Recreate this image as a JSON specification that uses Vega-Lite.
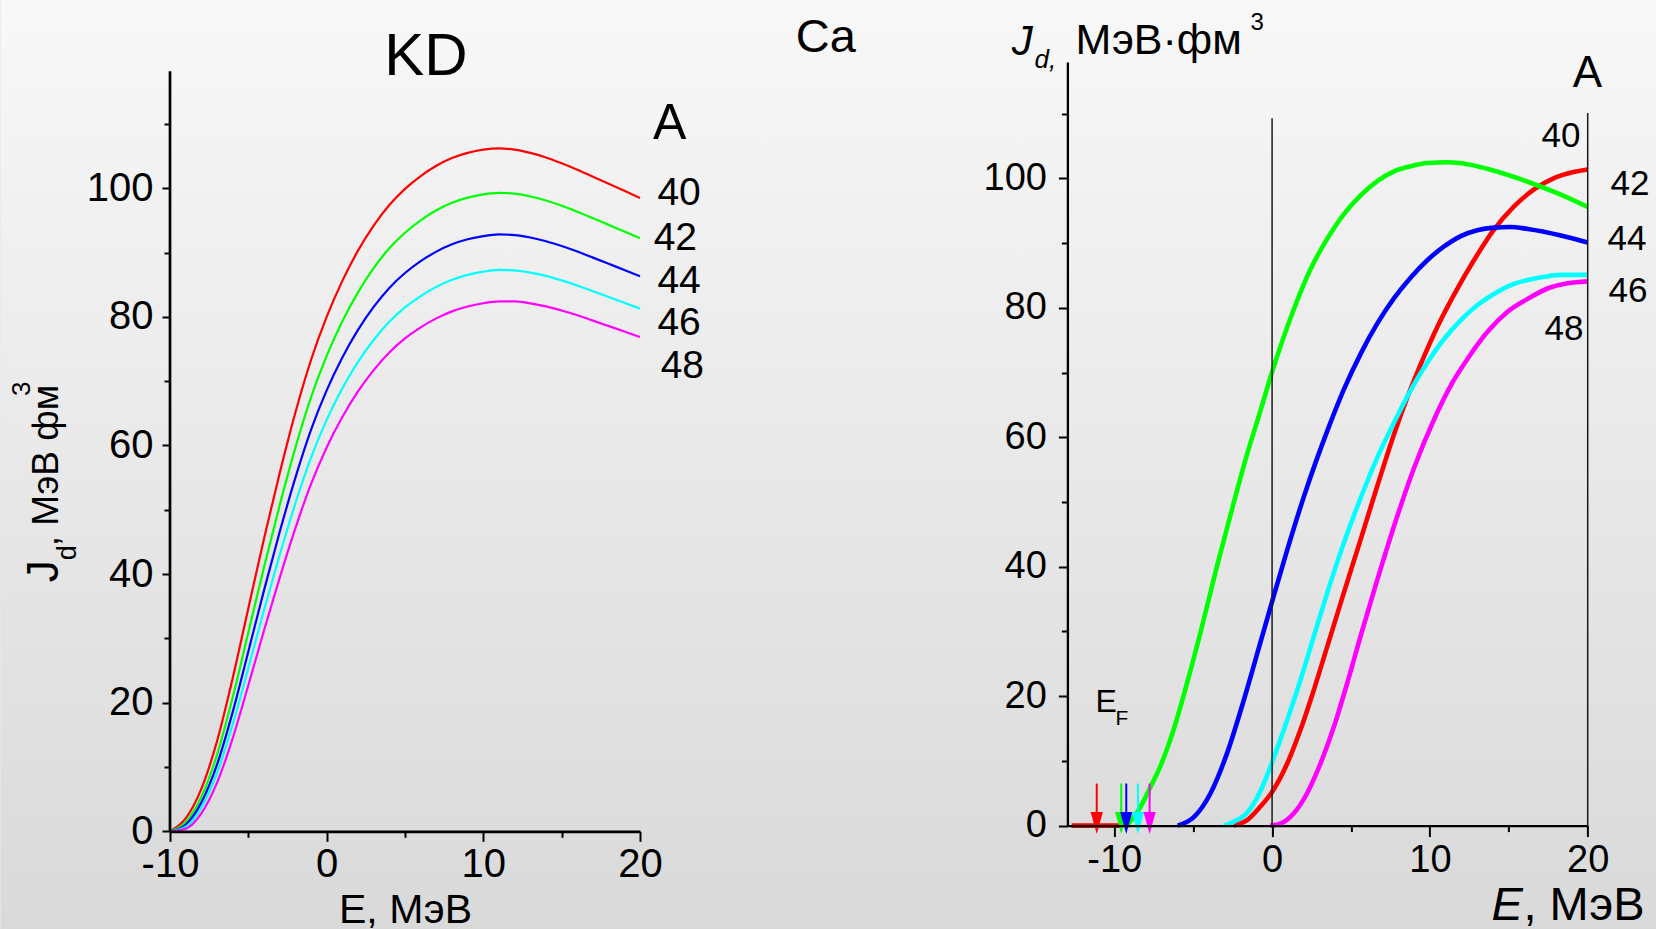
{
  "$schema": "https://vega.github.io/schema/vega-lite/v6.json",
  "padding": 0,
  "background": "#e8e8e8",
  "bounds": "flush",
  "spacing": 427.4,
  "resolve": {"scale": {"x": "independent", "y": "independent"}},
  "config": {
    "view": {"stroke": null},
    "axis": {"labelFont": "Liberation Sans", "titleFont": "Liberation Sans", "labelColor": "#000", "titleColor": "#000", "domainColor": "#000", "tickColor": "#000", "grid": false, "labelFlush": false, "labelOverlap": false, "titleFontWeight": "normal"},
    "text": {"font": "Liberation Sans", "color": "#000"}
  },
  "datasets": {
    "kd": [
      {"A":"40","E":-10,"J":0},{"A":"40","E":-9,"J":2.0},{"A":"40","E":-8,"J":6.6},{"A":"40","E":-7,"J":14.0},{"A":"40","E":-6,"J":23.8},{"A":"40","E":-5,"J":34.7},{"A":"40","E":-4,"J":45.5},{"A":"40","E":-3,"J":55.7},{"A":"40","E":-2,"J":65.1},{"A":"40","E":-1,"J":73.3},{"A":"40","E":0,"J":80.0},{"A":"40","E":1,"J":85.6},{"A":"40","E":2,"J":90.3},{"A":"40","E":3,"J":94.2},{"A":"40","E":4,"J":97.4},{"A":"40","E":5,"J":99.9},{"A":"40","E":6,"J":101.9},{"A":"40","E":7,"J":103.5},{"A":"40","E":8,"J":104.7},{"A":"40","E":9,"J":105.5},{"A":"40","E":10,"J":106.0},{"A":"40","E":11,"J":106.2},{"A":"40","E":12,"J":106.0},{"A":"40","E":13,"J":105.5},{"A":"40","E":14,"J":104.8},{"A":"40","E":15,"J":103.9},{"A":"40","E":16,"J":102.9},{"A":"40","E":17,"J":101.8},{"A":"40","E":18,"J":100.7},{"A":"40","E":19,"J":99.6},{"A":"40","E":20,"J":98.5},
      {"A":"42","E":-10,"J":0},{"A":"42","E":-9,"J":1.4},{"A":"42","E":-8,"J":5.33},{"A":"42","E":-7,"J":11.88},{"A":"42","E":-6,"J":20.8},{"A":"42","E":-5,"J":30.92},{"A":"42","E":-4,"J":41.07},{"A":"42","E":-3,"J":50.7},{"A":"42","E":-2,"J":59.63},{"A":"42","E":-1,"J":67.49},{"A":"42","E":0,"J":73.94},{"A":"42","E":1,"J":79.32},{"A":"42","E":2,"J":83.82},{"A":"42","E":3,"J":87.58},{"A":"42","E":4,"J":90.67},{"A":"42","E":5,"J":93.09},{"A":"42","E":6,"J":95.02},{"A":"42","E":7,"J":96.58},{"A":"42","E":8,"J":97.75},{"A":"42","E":9,"J":98.55},{"A":"42","E":10,"J":99.06},{"A":"42","E":11,"J":99.3},{"A":"42","E":12,"J":99.16},{"A":"42","E":13,"J":98.73},{"A":"42","E":14,"J":98.1},{"A":"42","E":15,"J":97.28},{"A":"42","E":16,"J":96.36},{"A":"42","E":17,"J":95.34},{"A":"42","E":18,"J":94.31},{"A":"42","E":19,"J":93.28},{"A":"42","E":20,"J":92.25},
      {"A":"44","E":-10,"J":0},{"A":"44","E":-9,"J":1.02},{"A":"44","E":-8,"J":4.46},{"A":"44","E":-7,"J":10.36},{"A":"44","E":-6,"J":18.54},{"A":"44","E":-5,"J":27.96},{"A":"44","E":-4,"J":37.47},{"A":"44","E":-3,"J":46.54},{"A":"44","E":-2,"J":54.97},{"A":"44","E":-1,"J":62.44},{"A":"44","E":0,"J":68.57},{"A":"44","E":1,"J":73.69},{"A":"44","E":2,"J":77.98},{"A":"44","E":3,"J":81.55},{"A":"44","E":4,"J":84.51},{"A":"44","E":5,"J":86.82},{"A":"44","E":6,"J":88.67},{"A":"44","E":7,"J":90.15},{"A":"44","E":8,"J":91.29},{"A":"44","E":9,"J":92.07},{"A":"44","E":10,"J":92.57},{"A":"44","E":11,"J":92.82},{"A":"44","E":12,"J":92.72},{"A":"44","E":13,"J":92.34},{"A":"44","E":14,"J":91.77},{"A":"44","E":15,"J":91.02},{"A":"44","E":16,"J":90.16},{"A":"44","E":17,"J":89.22},{"A":"44","E":18,"J":88.26},{"A":"44","E":19,"J":87.29},{"A":"44","E":20,"J":86.33},
      {"A":"46","E":-10,"J":0},{"A":"46","E":-9,"J":0.69},{"A":"46","E":-8,"J":3.7},{"A":"46","E":-7,"J":9.03},{"A":"46","E":-6,"J":16.59},{"A":"46","E":-5,"J":25.4},{"A":"46","E":-4,"J":34.38},{"A":"46","E":-3,"J":42.97},{"A":"46","E":-2,"J":50.98},{"A":"46","E":-1,"J":58.11},{"A":"46","E":0,"J":63.99},{"A":"46","E":1,"J":68.88},{"A":"46","E":2,"J":72.99},{"A":"46","E":3,"J":76.41},{"A":"46","E":4,"J":79.24},{"A":"46","E":5,"J":81.47},{"A":"46","E":6,"J":83.24},{"A":"46","E":7,"J":84.67},{"A":"46","E":8,"J":85.78},{"A":"46","E":9,"J":86.53},{"A":"46","E":10,"J":87.03},{"A":"46","E":11,"J":87.3},{"A":"46","E":12,"J":87.23},{"A":"46","E":13,"J":86.89},{"A":"46","E":14,"J":86.38},{"A":"46","E":15,"J":85.68},{"A":"46","E":16,"J":84.89},{"A":"46","E":17,"J":84.0},{"A":"46","E":18,"J":83.1},{"A":"46","E":19,"J":82.19},{"A":"46","E":20,"J":81.29},
      {"A":"48","E":-10,"J":0},{"A":"48","E":-9,"J":0.4},{"A":"48","E":-8,"J":2.79},{"A":"48","E":-7,"J":7.53},{"A":"48","E":-6,"J":14.45},{"A":"48","E":-5,"J":22.71},{"A":"48","E":-4,"J":31.23},{"A":"48","E":-3,"J":39.42},{"A":"48","E":-2,"J":47.1},{"A":"48","E":-1,"J":53.99},{"A":"48","E":0,"J":59.69},{"A":"48","E":1,"J":64.42},{"A":"48","E":2,"J":68.4},{"A":"48","E":3,"J":71.72},{"A":"48","E":4,"J":74.47},{"A":"48","E":5,"J":76.65},{"A":"48","E":6,"J":78.38},{"A":"48","E":7,"J":79.77},{"A":"48","E":8,"J":80.86},{"A":"48","E":9,"J":81.61},{"A":"48","E":10,"J":82.12},{"A":"48","E":11,"J":82.41},{"A":"48","E":12,"J":82.4},{"A":"48","E":13,"J":82.1},{"A":"48","E":14,"J":81.64},{"A":"48","E":15,"J":81.0},{"A":"48","E":16,"J":80.26},{"A":"48","E":17,"J":79.42},{"A":"48","E":18,"J":78.57},{"A":"48","E":19,"J":77.72},{"A":"48","E":20,"J":76.86}
    ],
    "ca": [
      {"A":"40","seg":"b","E":-12.7,"J":0},{"A":"40","seg":"b","E":-9.6,"J":0},
      {"A":"40","seg":"m","E":-2.43,"J":0},{"A":"40","seg":"m","E":-1.6,"J":0.8},{"A":"40","seg":"m","E":-0.75,"J":2.9},{"A":"40","seg":"m","E":0,"J":5.2},{"A":"40","seg":"m","E":0.96,"J":9.6},{"A":"40","seg":"m","E":1.8,"J":14.8},{"A":"40","seg":"m","E":2.65,"J":21.0},{"A":"40","seg":"m","E":3.5,"J":27.7},{"A":"40","seg":"m","E":4.55,"J":36.0},{"A":"40","seg":"m","E":5.61,"J":44.2},{"A":"40","seg":"m","E":6.67,"J":52.5},{"A":"40","seg":"m","E":7.7,"J":60.3},{"A":"40","seg":"m","E":8.7,"J":67.0},{"A":"40","seg":"m","E":9.7,"J":72.9},{"A":"40","seg":"m","E":10.7,"J":78.2},{"A":"40","seg":"m","E":11.7,"J":82.8},{"A":"40","seg":"m","E":12.8,"J":87.4},{"A":"40","seg":"m","E":14.0,"J":91.9},{"A":"40","seg":"m","E":15.3,"J":95.6},{"A":"40","seg":"m","E":16.6,"J":98.3},{"A":"40","seg":"m","E":17.9,"J":100.1},{"A":"40","seg":"m","E":19.1,"J":101.0},{"A":"40","seg":"m","E":20,"J":101.4},
      {"A":"42","seg":"m","E":-9.2,"J":0},{"A":"42","seg":"m","E":-8.34,"J":2.9},{"A":"42","seg":"m","E":-7.8,"J":5.5},{"A":"42","seg":"m","E":-7.09,"J":9.1},{"A":"42","seg":"m","E":-6.24,"J":14.8},{"A":"42","seg":"m","E":-5.39,"J":22.0},{"A":"42","seg":"m","E":-4.54,"J":29.8},{"A":"42","seg":"m","E":-3.49,"J":40.1},{"A":"42","seg":"m","E":-2.43,"J":49.9},{"A":"42","seg":"m","E":-1.58,"J":57.4},{"A":"42","seg":"m","E":-0.75,"J":64.0},{"A":"42","seg":"m","E":0,"J":70.1},{"A":"42","seg":"m","E":1.38,"J":79.8},{"A":"42","seg":"m","E":2.44,"J":86.0},{"A":"42","seg":"m","E":3.5,"J":90.7},{"A":"42","seg":"m","E":4.55,"J":94.5},{"A":"42","seg":"m","E":5.61,"J":97.4},{"A":"42","seg":"m","E":6.67,"J":99.6},{"A":"42","seg":"m","E":7.73,"J":101.1},{"A":"42","seg":"m","E":8.79,"J":101.9},{"A":"42","seg":"m","E":9.85,"J":102.4},{"A":"42","seg":"m","E":11.1,"J":102.5},{"A":"42","seg":"m","E":12.4,"J":102.2},{"A":"42","seg":"m","E":14.08,"J":101.2},{"A":"42","seg":"m","E":16.2,"J":99.5},{"A":"42","seg":"m","E":18.3,"J":97.5},{"A":"42","seg":"m","E":20,"J":95.6},
      {"A":"44","seg":"m","E":-5.98,"J":0},{"A":"44","seg":"m","E":-4.96,"J":1.3},{"A":"44","seg":"m","E":-3.9,"J":5.0},{"A":"44","seg":"m","E":-2.85,"J":11.2},{"A":"44","seg":"m","E":-1.79,"J":19.4},{"A":"44","seg":"m","E":-0.74,"J":28.3},{"A":"44","seg":"m","E":0,"J":34.6},{"A":"44","seg":"m","E":0.96,"J":42.6},{"A":"44","seg":"m","E":2.01,"J":50.8},{"A":"44","seg":"m","E":2.8,"J":56.4},{"A":"44","seg":"m","E":3.5,"J":61.0},{"A":"44","seg":"m","E":4.55,"J":67.4},{"A":"44","seg":"m","E":5.61,"J":72.9},{"A":"44","seg":"m","E":6.67,"J":77.6},{"A":"44","seg":"m","E":7.73,"J":81.5},{"A":"44","seg":"m","E":8.79,"J":84.7},{"A":"44","seg":"m","E":9.85,"J":87.4},{"A":"44","seg":"m","E":10.9,"J":89.5},{"A":"44","seg":"m","E":11.96,"J":91.1},{"A":"44","seg":"m","E":13.0,"J":92.0},{"A":"44","seg":"m","E":14.08,"J":92.4},{"A":"44","seg":"m","E":15.1,"J":92.5},{"A":"44","seg":"m","E":16.2,"J":92.2},{"A":"44","seg":"m","E":18.3,"J":91.2},{"A":"44","seg":"m","E":20,"J":90.1},
      {"A":"46","seg":"m","E":-3.06,"J":0},{"A":"46","seg":"m","E":-2.43,"J":0.6},{"A":"46","seg":"m","E":-1.58,"J":2.0},{"A":"46","seg":"m","E":-0.74,"J":5.3},{"A":"46","seg":"m","E":0,"J":9.8},{"A":"46","seg":"m","E":0.96,"J":16.3},{"A":"46","seg":"m","E":1.8,"J":22.5},{"A":"46","seg":"m","E":2.65,"J":29.3},{"A":"46","seg":"m","E":3.5,"J":36.0},{"A":"46","seg":"m","E":4.55,"J":43.7},{"A":"46","seg":"m","E":5.61,"J":50.6},{"A":"46","seg":"m","E":6.67,"J":56.9},{"A":"46","seg":"m","E":7.73,"J":62.3},{"A":"46","seg":"m","E":8.79,"J":67.3},{"A":"46","seg":"m","E":9.85,"J":71.6},{"A":"46","seg":"m","E":10.9,"J":75.2},{"A":"46","seg":"m","E":11.96,"J":78.1},{"A":"46","seg":"m","E":13.0,"J":80.4},{"A":"46","seg":"m","E":14.08,"J":82.2},{"A":"46","seg":"m","E":15.1,"J":83.5},{"A":"46","seg":"m","E":16.2,"J":84.3},{"A":"46","seg":"m","E":17.25,"J":84.8},{"A":"46","seg":"m","E":18.3,"J":85.1},{"A":"46","seg":"m","E":20,"J":85.1},
      {"A":"48","seg":"m","E":-0.1,"J":0},{"A":"48","seg":"m","E":0.53,"J":0.3},{"A":"48","seg":"m","E":1.38,"J":1.9},{"A":"48","seg":"m","E":2.22,"J":5.0},{"A":"48","seg":"m","E":3.07,"J":9.6},{"A":"48","seg":"m","E":3.92,"J":15.3},{"A":"48","seg":"m","E":4.76,"J":22.0},{"A":"48","seg":"m","E":5.61,"J":29.3},{"A":"48","seg":"m","E":6.67,"J":38.0},{"A":"48","seg":"m","E":7.73,"J":46.3},{"A":"48","seg":"m","E":9.0,"J":55.3},{"A":"48","seg":"m","E":10.27,"J":62.8},{"A":"48","seg":"m","E":11.32,"J":68.0},{"A":"48","seg":"m","E":12.38,"J":72.1},{"A":"48","seg":"m","E":13.65,"J":76.3},{"A":"48","seg":"m","E":14.92,"J":79.4},{"A":"48","seg":"m","E":16.2,"J":81.4},{"A":"48","seg":"m","E":17.46,"J":83.0},{"A":"48","seg":"m","E":18.73,"J":83.8},{"A":"48","seg":"m","E":20,"J":84.1}
    ],
    "fermi": [
      {"A":"40","E":-11.11},{"A":"42","E":-9.56},{"A":"44","E":-9.24},{"A":"46","E":-8.5},{"A":"48","E":-7.76}
    ]
  },
  "hconcat": [
    {
      "width": 470,
      "height": 769.3,
      "layer": [
        {
          "data": {"values": [{}]},
          "mark": {"type": "rect", "fill": {"gradient": "linear", "x1": 0, "y1": 0, "x2": 0, "y2": 1, "stops": [{"offset": 0, "color": "#f8f8f8"}, {"offset": 1, "color": "#d9d9d9"}]}},
          "encoding": {"x": {"datum": -20.806}, "x2": {"datum": 84.87}, "y": {"datum": 129.24}, "y2": {"datum": -15.2}}
        },
        {
          "data": {"name": "kd"},
          "mark": {"type": "line", "strokeWidth": 2.2, "interpolate": "monotone"},
          "encoding": {
            "x": {"field": "E", "type": "quantitative", "scale": {"domain": [-10, 20], "nice": false, "zero": false},
              "axis": {"zindex": 1, "values": [-10, -5, 0, 5, 10, 15, 20], "labelExpr": "datum.value % 10 === 0 ? toString(datum.value) : ''", "labelFontSize": 40, "labelPadding": 3, "tickSize": {"condition": {"test": "datum.value % 10 === 0", "value": 10}, "value": 6}, "tickWidth": 2, "domainWidth": 2.7, "title": "E, МэВ", "titleFontSize": 41, "titleBaseline": "alphabetic", "titleY": 91}},
            "y": {"field": "J", "type": "quantitative", "scale": {"domain": [0, 119.64], "nice": false, "zero": false},
              "axis": {"zindex": 1, "values": [0, 10, 20, 30, 40, 50, 60, 70, 80, 90, 100, 110], "labelExpr": "datum.value % 20 === 0 ? toString(datum.value) : ''", "labelFontSize": 40, "labelPadding": 9, "tickSize": {"condition": {"test": "datum.value % 20 === 0", "value": 8}, "value": 6}, "tickWidth": 2, "domain": false, "title": null}},
            "color": {"field": "A", "type": "nominal", "scale": {"domain": ["40", "42", "44", "46", "48"], "range": ["#ff0000", "#00ff00", "#0000ff", "#00ffff", "#ff00ff"]}, "legend": null}
          }
        },
        {
          "data": {"values": [{}]},
          "mark": {"type": "rule", "strokeWidth": 2.7, "color": "#000"},
          "encoding": {"x": {"datum": -10}, "y": {"datum": 0}, "y2": {"datum": 118.2}}
        },
        {"data": {"values": [{}]}, "mark": {"type": "text", "text": "KD", "fontSize": 60, "align": "center", "baseline": "alphabetic"}, "encoding": {"x": {"datum": 6.33}, "y": {"datum": 117.57}}},
        {"data": {"values": [{}]}, "mark": {"type": "text", "text": "Ca", "fontSize": 47, "align": "left", "baseline": "alphabetic"}, "encoding": {"x": {"datum": 29.94}, "y": {"datum": 121.15}}},
        {"data": {"values": [{}]}, "mark": {"type": "text", "text": "A", "fontSize": 50, "align": "left", "baseline": "alphabetic"}, "encoding": {"x": {"datum": 20.83}, "y": {"datum": 107.7}}},
        {"data": {"values": [{}]}, "mark": {"type": "text", "text": "40", "fontSize": 39, "align": "left", "baseline": "alphabetic"}, "encoding": {"x": {"datum": 21.11}, "y": {"datum": 97.36}}},
        {"data": {"values": [{}]}, "mark": {"type": "text", "text": "42", "fontSize": 39, "align": "left", "baseline": "alphabetic"}, "encoding": {"x": {"datum": 20.87}, "y": {"datum": 90.47}}},
        {"data": {"values": [{}]}, "mark": {"type": "text", "text": "44", "fontSize": 39, "align": "left", "baseline": "alphabetic"}, "encoding": {"x": {"datum": 21.11}, "y": {"datum": 83.78}}},
        {"data": {"values": [{}]}, "mark": {"type": "text", "text": "46", "fontSize": 39, "align": "left", "baseline": "alphabetic"}, "encoding": {"x": {"datum": 21.11}, "y": {"datum": 77.14}}},
        {"data": {"values": [{}]}, "mark": {"type": "text", "text": "48", "fontSize": 39, "align": "left", "baseline": "alphabetic"}, "encoding": {"x": {"datum": 21.32}, "y": {"datum": 70.56}}},
        {"data": {"values": [{}]}, "mark": {"type": "text", "text": "J", "fontSize": 44, "angle": 270, "align": "left", "baseline": "alphabetic"}, "encoding": {"x": {"datum": -17.168}, "y": {"datum": 38.72}}},
        {"data": {"values": [{}]}, "mark": {"type": "text", "text": "d", "fontSize": 27, "angle": 270, "align": "left", "baseline": "alphabetic"}, "encoding": {"x": {"datum": -16.02}, "y": {"datum": 42.15}}},
        {"data": {"values": [{}]}, "mark": {"type": "text", "text": ", МэВ фм", "fontSize": 37, "angle": 270, "align": "left", "baseline": "alphabetic"}, "encoding": {"x": {"datum": -17.168}, "y": {"datum": 44.32}}},
        {"data": {"values": [{}]}, "mark": {"type": "text", "text": "3", "fontSize": 26, "angle": 270, "align": "left", "baseline": "alphabetic"}, "encoding": {"x": {"datum": -18.955}, "y": {"datum": 67.7}}}
      ]
    },
    {
      "width": 520.3,
      "height": 763.6,
      "layer": [
        {
          "data": {"name": "ca"},
          "mark": {"type": "line", "strokeWidth": 4.6, "interpolate": "monotone"},
          "encoding": {
            "x": {"field": "E", "type": "quantitative", "scale": {"domain": [-12.97, 20], "nice": false, "zero": false},
              "axis": {"zindex": 1, "values": [-10, -5, 0, 5, 10, 15, 20], "labelExpr": "datum.value % 10 === 0 ? toString(datum.value) : ''", "labelFontSize": 38, "labelPadding": 5, "tickSize": {"condition": {"test": "datum.value % 10 === 0", "value": 11}, "value": 6}, "tickWidth": 2, "domainWidth": 2.3, "title": null}},
            "y": {"field": "J", "type": "quantitative", "scale": {"domain": [0, 118], "nice": false, "zero": false},
              "axis": {"zindex": 1, "values": [0, 10, 20, 30, 40, 50, 60, 70, 80, 90, 100, 110], "labelExpr": "datum.value % 20 === 0 ? toString(datum.value) : ''", "labelFontSize": 38, "labelPadding": 12, "tickSize": {"condition": {"test": "datum.value % 20 === 0", "value": 9}, "value": 6}, "tickWidth": 2, "domainWidth": 2.3, "title": null}},
            "color": {"field": "A", "type": "nominal", "scale": {"domain": ["40", "42", "44", "46", "48"], "range": ["#ff0000", "#00ff00", "#0000ff", "#00ffff", "#ff00ff"]}, "legend": null},
            "detail": {"field": "seg"}
          }
        },
        {
          "data": {"name": "fermi"},
          "mark": {"type": "rule", "strokeWidth": 2},
          "encoding": {
            "x": {"field": "E", "type": "quantitative"},
            "y": {"datum": 6.5}, "y2": {"datum": 1.2},
            "color": {"field": "A", "type": "nominal", "legend": null}
          }
        },
        {
          "data": {"name": "fermi"},
          "mark": {"type": "point", "shape": "M-0.56,-1L0.56,-1L0,1Z", "size": 480, "filled": true, "opacity": 1, "strokeWidth": 0},
          "encoding": {
            "x": {"field": "E", "type": "quantitative"},
            "y": {"datum": 0.4},
            "color": {"field": "A", "type": "nominal", "legend": null}
          }
        },
        {"data": {"values": [{}]}, "mark": {"type": "rule", "strokeWidth": 1.5, "color": "#1a1a1a"}, "encoding": {"x": {"datum": 0}, "y": {"datum": 0}, "y2": {"datum": 109.3}}},
        {"data": {"values": [{}]}, "mark": {"type": "rule", "strokeWidth": 1.5, "color": "#1a1a1a"}, "encoding": {"x": {"datum": 20}, "y": {"datum": 0}, "y2": {"datum": 110.1}}},
        {"data": {"values": [{}]}, "mark": {"type": "text", "text": "E", "fontSize": 32, "align": "left", "baseline": "alphabetic"}, "encoding": {"x": {"datum": -11.19}, "y": {"datum": 17.51}}},
        {"data": {"values": [{}]}, "mark": {"type": "text", "text": "F", "fontSize": 21, "align": "left", "baseline": "alphabetic"}, "encoding": {"x": {"datum": -9.92}, "y": {"datum": 15.5}}},
        {"data": {"values": [{}]}, "mark": {"type": "text", "text": "A", "fontSize": 44, "align": "left", "baseline": "alphabetic"}, "encoding": {"x": {"datum": 19.06}, "y": {"datum": 114.1}}},
        {"data": {"values": [{}]}, "mark": {"type": "text", "text": "40", "fontSize": 35, "align": "right", "baseline": "alphabetic"}, "encoding": {"x": {"datum": 19.54}, "y": {"datum": 104.8}}},
        {"data": {"values": [{}]}, "mark": {"type": "text", "text": "42", "fontSize": 35, "align": "left", "baseline": "alphabetic"}, "encoding": {"x": {"datum": 21.44}, "y": {"datum": 97.4}}},
        {"data": {"values": [{}]}, "mark": {"type": "text", "text": "44", "fontSize": 35, "align": "left", "baseline": "alphabetic"}, "encoding": {"x": {"datum": 21.25}, "y": {"datum": 88.9}}},
        {"data": {"values": [{}]}, "mark": {"type": "text", "text": "46", "fontSize": 35, "align": "left", "baseline": "alphabetic"}, "encoding": {"x": {"datum": 21.32}, "y": {"datum": 80.9}}},
        {"data": {"values": [{}]}, "mark": {"type": "text", "text": "48", "fontSize": 35, "align": "right", "baseline": "alphabetic"}, "encoding": {"x": {"datum": 19.73}, "y": {"datum": 75.0}}},
        {"data": {"values": [{}]}, "mark": {"type": "text", "text": "J", "fontSize": 42, "fontStyle": "italic", "align": "left", "baseline": "alphabetic"}, "encoding": {"x": {"datum": -16.5}, "y": {"datum": 119.04}}},
        {"data": {"values": [{}]}, "mark": {"type": "text", "text": "d,", "fontSize": 26, "fontStyle": "italic", "align": "left", "baseline": "alphabetic"}, "encoding": {"x": {"datum": -15.06}, "y": {"datum": 117.03}}},
        {"data": {"values": [{}]}, "mark": {"type": "text", "text": "МэВ·фм", "fontSize": 43, "align": "left", "baseline": "alphabetic"}, "encoding": {"x": {"datum": -12.45}, "y": {"datum": 119.3}}},
        {"data": {"values": [{}]}, "mark": {"type": "text", "text": "3", "fontSize": 24, "align": "left", "baseline": "alphabetic"}, "encoding": {"x": {"datum": -1.37}, "y": {"datum": 122.9}}},
        {"data": {"values": [{}]}, "mark": {"type": "text", "text": "E", "fontSize": 47, "fontStyle": "italic", "align": "left", "baseline": "alphabetic"}, "encoding": {"x": {"datum": 13.9}, "y": {"datum": -14.63}}},
        {"data": {"values": [{}]}, "mark": {"type": "text", "text": ", МэВ", "fontSize": 47, "align": "left", "baseline": "alphabetic"}, "encoding": {"x": {"datum": 15.93}, "y": {"datum": -14.63}}}
      ]
    }
  ]
}
